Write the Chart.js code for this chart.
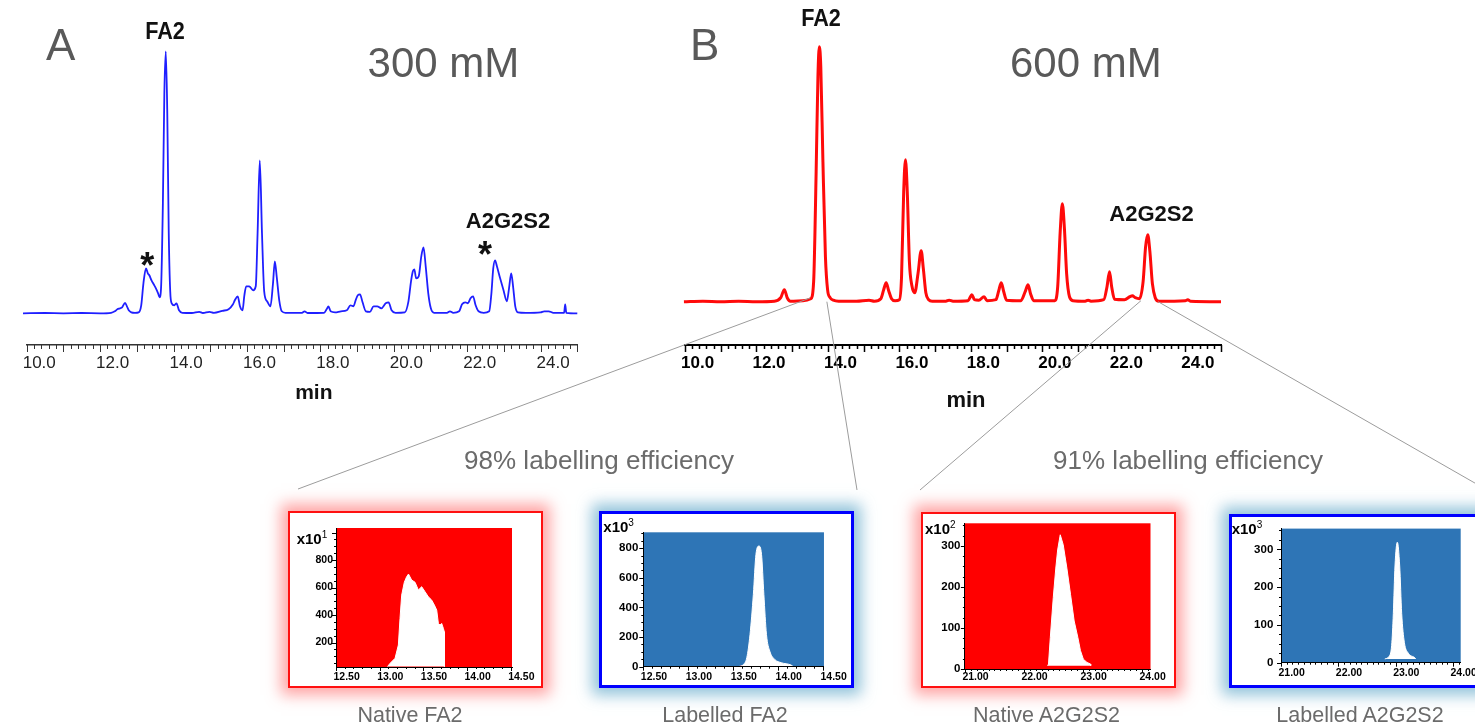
<!DOCTYPE html>
<html><head><meta charset="utf-8">
<script src="https://cdn.jsdelivr.net/npm/chart.js@4.4.1/dist/chart.umd.min.js"></script>
<style>
html,body{margin:0;padding:0;background:#fff;}
#page{position:relative;width:1475px;height:727px;overflow:hidden;background:#fff;font-family:"Liberation Sans",Arial,sans-serif;}
canvas{position:absolute;}
.t{position:absolute;white-space:nowrap;}
.box{position:absolute;box-sizing:border-box;background:#fff;}
</style></head><body><div id="page"></div>
<script>
// ---------------- DATA ----------------
// Panel A (300 mM) chromatogram: retention time (min) and signal (relative units)
const timeA = [9.90,10.5,11.0,11.5,12.0,12.30,12.40,12.47,12.54,12.60,12.68,12.73,12.78,12.85,12.95,13.05,13.12,13.18,13.25,13.30,13.34,13.40,13.46,13.52,13.58,13.62,13.66,13.71,13.75,13.79,13.83,13.87,13.91,13.95,14.02,14.08,14.15,14.24,14.5,14.70,14.80,14.98,15.10,15.33,15.50,15.62,15.67,15.75,15.81,15.88,15.93,15.98,16.06,16.17,16.24,16.29,16.35,16.41,16.47,16.55,16.64,16.71,16.76,16.81,16.88,16.95,17.05,17.5,17.57,17.65,18.10,18.17,18.22,18.28,18.40,18.56,18.72,18.82,18.90,18.97,19.02,19.08,19.15,19.24,19.35,19.45,19.55,19.66,19.78,19.86,19.94,20.05,20.30,20.40,20.47,20.52,20.56,20.61,20.68,20.75,20.81,20.87,20.94,21.01,21.10,21.45,21.53,21.62,21.78,21.86,21.95,22.02,22.09,22.16,22.23,22.31,22.45,22.60,22.66,22.71,22.76,22.81,22.89,22.99,23.08,23.14,23.20,23.25,23.31,23.38,23.60,24.00,24.10,24.22,24.35,24.64,24.67,24.70,25.00];
const signalA = [0,0.3,0,0.3,0,0.5,2,4,5,6,10.5,7,3,1,0.5,1,8,30,45,40,38,33,29,25,20,16,25,110,220,262,200,80,22,10,8,10,3,0.5,0.3,1.5,0.3,1.5,0.5,2.5,4,9,13,17,7,3,18,27,27,23,27,80,153,80,22,12,7,30,52,37,13,2,0.5,0.5,2,0.3,0.5,4,7,2,1,2,3,8,7,14,18,19,11,2,1.5,7,7,5,10,11,3,0.5,1,12,32,42,44,35,37,57,66,47,20,5,0.5,0.5,2,0.5,2,9,11,10,15,17,8,2,0.5,2,20,45,53,47,36,23,12,25,40,27,7,1,0.5,1,2,2,0.5,0.5,9,0.5,0];

// Panel B (600 mM) chromatogram
const timeB = [9.97,10.5,11.0,11.5,12.0,12.5,12.68,12.78,12.86,12.95,13.30,13.52,13.60,13.67,13.72,13.76,13.80,13.86,13.93,13.99,14.06,14.15,14.30,14.80,15.15,15.30,15.48,15.56,15.63,15.70,15.78,15.88,16.00,16.06,16.12,16.17,16.22,16.28,16.35,16.43,16.52,16.61,16.67,16.74,16.82,16.92,17.30,17.39,17.50,17.92,18.03,18.10,18.22,18.37,18.45,18.70,18.78,18.85,18.92,19.00,19.40,19.52,19.60,19.67,19.76,20.35,20.43,20.50,20.56,20.62,20.68,20.76,20.86,21.20,21.28,21.36,21.72,21.81,21.88,21.94,22.02,22.30,22.45,22.52,22.60,22.72,22.82,22.89,22.95,23.01,23.08,23.16,23.26,24.00,24.07,24.14,25.00];
const signalB = [0,0.5,0,0.5,0,0.5,4,12,4,0.5,1,3,20,130,225,255,235,140,45,12,4,1.5,0.5,0.5,1.5,0.5,3,12,19,11,3,1,2,25,110,142,110,40,16,9,28,51,33,9,2,0.5,0.5,1.5,0.5,1,7,2,1.5,5,1,2,11,19,10,1.5,1,10,17,8,1,1,15,70,98,72,28,5,1,0.5,1.5,0.5,2,15,30,15,2.5,2,5,6,4,3,20,55,67,50,18,4,0.5,1,2,0.5,0];
const mainTickLabels = [10,12,14,16,18,20,22,24];

// Inset: Native FA2 (x10^1)
const nativeFA2Time  = [13.09,13.118,13.176,13.214,13.233,13.252,13.282,13.309,13.33,13.366,13.405,13.443,13.481,13.519,13.557,13.595,13.626,13.653,13.672,13.691,13.71,13.729,13.74,13.741];
const nativeFA2Value = [25,48,85,182,376,545,638,679,698,655,638,582,606,570,533,509,473,436,339,327,339,303,279,25];
const nativeFA2XLabels = [12.5,13.0,13.5,14.0,14.5];
const nativeFA2YLabels = [200,400,600,800];

// Inset: Labelled FA2 (x10^3)
const labelledFA2Time  = [13.56,13.615,13.652,13.688,13.725,13.754,13.787,13.816,13.842,13.871,13.908,13.963,14.036,14.145,14.17];
const labelledFA2Value = [0,15,61,218,488,759,815,759,488,218,105,49,27,11,0];
const labelledFA2XLabels = [12.5,13.0,13.5,14.0,14.5];
const labelledFA2YLabels = [0,200,400,600,800];

// Inset: Native A2G2S2 (x10^2)
const nativeA2Time  = [22.40,22.416,22.447,22.497,22.54,22.571,22.615,22.665,22.727,22.789,22.851,22.913,22.957,23.006,23.068,23.13,23.131];
const nativeA2Value = [8,12,77,174,246,290,327,303,246,182,117,77,45,24,16,12,8];
const nativeA2XLabels = [21,22,23,24];
const nativeA2YLabels = [0,100,200,300];

// Inset: Labelled A2G2S2 (x10^3)
const labelledA2Time  = [22.81,22.884,22.93,22.959,22.988,23.029,23.07,23.105,23.151,23.221,23.337,23.349];
const labelledA2Value = [10,16.6,46,130,256,319,256,130,54,25,12.6,10];
const labelledA2XLabels = [21,22,23,24];
const labelledA2YLabels = [0,100,200,300];

// zoomed regions of panel B linked to the insets (min, signal)
const zoomLinks = [[13.50,3.7],[13.97,0],[22.76,1],[23.24,0]];

// ---------------- HELPERS ----------------
const page = document.getElementById('page');
Chart.defaults.font.family = '"Liberation Sans", Arial, sans-serif';
const SANS = '"Liberation Sans", Arial, sans-serif';
const SERIF = '"Liberation Serif", "Times New Roman", serif';

function pts(t, v){ return t.map((x,i)=>({x:x, y:v[i]})); }
function near(list, v, eps){ return list.some(a=>Math.abs(a-v)<eps); }

function mkCanvas(x,y,w,h,z){
  const c=document.createElement('canvas');
  c.width=w; c.height=h;
  c.style.left=x+'px'; c.style.top=y+'px';
  c.style.width=w+'px'; c.style.height=h+'px';
  c.style.zIndex = z||2;
  page.appendChild(c); return c;
}
function box(x,y,w,h,border,shadow){
  const d=document.createElement('div'); d.className='box';
  d.style.left=x+'px'; d.style.top=y+'px'; d.style.width=w+'px'; d.style.height=h+'px';
  d.style.border=border; d.style.boxShadow=shadow; d.style.zIndex=1;
  page.appendChild(d);
}
function txt(s,x,base,size,o){
  o=o||{};
  const d=document.createElement('div'); d.className='t';
  if(o.html) d.innerHTML=s; else d.textContent=s;
  d.style.fontSize=size+'px'; d.style.lineHeight=size+'px';
  d.style.fontFamily=o.serif?SERIF:SANS;
  d.style.fontWeight=o.weight||'normal';
  d.style.color=o.color||'#000';
  const k=o.serif?0.8375:0.8465;
  d.style.top=(base-k*size)+'px';
  d.style.left=x+'px';
  let tr='';
  if(o.align==='center') tr+='translateX(-50%) ';
  if(o.sx) tr+='scaleX('+o.sx+')';
  d.style.transform=tr;
  d.style.zIndex=5;
  page.appendChild(d);
}

const tickMarks = {
  id:'tickMarks',
  afterDraw(chart, args, o){
    if(!o || !o.axes) return;
    const ctx=chart.ctx;
    o.axes.forEach(a=>{
      const s=chart.scales[a.id];
      ctx.save(); ctx.strokeStyle=a.color; ctx.lineWidth=a.width; ctx.beginPath();
      const k0=Math.ceil(s.min/a.minor-1e-6), k1=Math.floor(s.max/a.minor+1e-6);
      for(let k=k0;k<=k1;k++){
        const v=k*a.minor; const r=v/a.major;
        const major=Math.abs(r-Math.round(r))<1e-6;
        const len=major?a.majorLen:a.minorLen;
        const p=s.getPixelForValue(v);
        if(s.isHorizontal()){
          const px=Math.round(p)+0.5;
          ctx.moveTo(px, s.top); ctx.lineTo(px, s.top+len);
        } else {
          const py=Math.round(p)+0.5;
          ctx.moveTo(s.right, py); ctx.lineTo(s.right-len, py);
        }
      }
      ctx.stroke(); ctx.restore();
    });
  }
};
const plotBg = {
  id:'plotBg',
  beforeDraw(chart, args, o){
    if(!o || !o.color) return;
    const {ctx, chartArea:a}=chart;
    ctx.save(); ctx.fillStyle=o.color;
    ctx.fillRect(a.left,a.top,a.right-a.left,a.bottom-a.top);
    ctx.restore();
  }
};

function mainChart(c, t, v, o){
  return new Chart(c, {
    type:'line',
    data:{datasets:[{data:pts(t,v), borderColor:o.color, borderWidth:o.lw, pointRadius:0, fill:false,
      cubicInterpolationMode:'monotone', clip:false}]},
    options:{
      responsive:false, animation:false, devicePixelRatio:1,
      layout:{padding:{left:o.padL,right:o.padR,top:o.padT,bottom:0}},
      plugins:{legend:{display:false}, tooltip:{enabled:false},
        tickMarks:{axes:[{id:'x',minor:0.2,major:1,minorLen:4,majorLen:7,color:o.axisColor,width:o.tickW}]}},
      scales:{
        x:{type:'linear', min:10, max:25,
          grid:{display:false, drawTicks:false},
          border:{display:true, color:o.axisColor, width:o.axisW, z:1},
          ticks:{stepSize:0.2, autoSkip:false, maxRotation:0, minRotation:0, align:'start', labelOffset:-4,
            padding:8, color:o.labelColor, font:{size:17, weight:o.labelWeight, family:SANS},
            callback:(val)=>{ const r=Math.round(val*10)/10; return near(mainTickLabels,r,1e-6)? r.toFixed(1):''; }},
          afterFit:(s)=>{ s.height=o.xH; }
        },
        y:{display:false, min:o.yMin, max:o.yMax}
      }
    },
    plugins:[tickMarks]
  });
}

function insetChart(c, o){
  const ds=[{data:pts(o.t,o.v), borderColor:'#ffffff', borderWidth:1, backgroundColor:'#ffffff',
      fill:{value:o.base}, pointRadius:0, tension:0, cubicInterpolationMode:o.mono?'monotone':'default'}];
  if(o.extra) o.extra.forEach(e=>ds.push(e));
  return new Chart(c, {
    type:'line',
    data:{datasets:ds},
    options:{
      responsive:false, animation:false, devicePixelRatio:1,
      layout:{padding:{left:0,right:o.padR,top:o.padT,bottom:0}},
      plugins:{legend:{display:false}, tooltip:{enabled:false}, plotBg:{color:o.bg},
        tickMarks:{axes:[
          {id:'x',minor:0.1,major:o.xMajor,minorLen:2,majorLen:4,color:'#000',width:1},
          {id:'y',minor:o.yMinor,major:o.yMajor,minorLen:2,majorLen:4,color:'#000',width:1}]}},
      scales:{
        x:{type:'linear', min:o.xMin, max:o.xMax,
          grid:{display:false, drawTicks:false},
          border:{display:true, color:'#000', width:1, z:1},
          ticks:{stepSize:0.1, autoSkip:false, maxRotation:0, minRotation:0, includeBounds:false, align:'start', labelOffset:-2.5,
            padding:o.xPad, color:'#000', font:{size:10.5, weight:'bold', family:SANS},
            callback:(val)=>{ const r=Math.round(val*100)/100; return near(o.xLabels,r,1e-6)? r.toFixed(2):''; }},
          afterFit:(s)=>{ s.height=o.xH; }
        },
        y:{min:o.yMin, max:o.yMax,
          grid:{display:false, drawTicks:false},
          border:{display:true, color:'#000', width:1, z:1},
          ticks:{stepSize:o.yMinor, autoSkip:false, includeBounds:false, padding:o.yPad, color:'#000',
            font:{size:o.yFont, weight:'bold', family:SANS},
            callback:(val)=>{ const r=Math.round(val); return near(o.yLabels,r,1e-6)? String(r):''; }},
          afterFit:(s)=>{ s.width=o.yW; }
        }
      }
    },
    plugins:[plotBg, tickMarks]
  });
}

// ---------------- MAIN CHROMATOGRAMS ----------------
const chartA = mainChart(mkCanvas(0,0,600,410), timeA, signalA, {
  color:'#1f1fff', lw:1.8, padL:26.7, padR:22.7, padT:40, xH:65, yMin:-31.7, yMax:273.3,
  axisColor:'#333', axisW:1.5, tickW:1, labelColor:'#222', labelWeight:'normal'});
const chartB = mainChart(mkCanvas(660,0,580,410), timeB, signalB, {
  color:'#ff0a0a', lw:3, padL:25, padR:19, padT:40, xH:65, yMin:-43.3, yMax:261.7,
  axisColor:'#000', axisW:2, tickW:1.5, labelColor:'#000', labelWeight:'bold'});

// ---------------- INSETS ----------------
const redGlow='0 0 14px 7px rgba(255,90,90,0.55)';
const blueGlow='0 0 14px 7px rgba(110,175,205,0.75)';
box(288,511,255,177,'2px solid #ff1010',redGlow);
box(599,511,255,177,'3px solid #0000ff',blueGlow);
box(921,512,255,176,'2px solid #ff1010',redGlow);
box(1229,514,280,174,'3px solid #0000ff',blueGlow);

insetChart(mkCanvas(288,511,255,177,3), {t:nativeFA2Time, v:nativeFA2Value, base:25, mono:false, bg:'#ff0000',
  padR:31, padT:17, xH:21, yW:48, xMin:12.5, xMax:14.515, yMin:22, yMax:1033,
  xMajor:0.5, yMinor:50, yMajor:200, xLabels:nativeFA2XLabels, yLabels:nativeFA2YLabels, xPad:3.5, yPad:3, yFont:10.5});
insetChart(mkCanvas(599,511,255,177,3), {t:labelledFA2Time, v:labelledFA2Value, base:0, mono:true, bg:'#2e75b6',
  padR:27.3, padT:21.3, xH:21.3, yW:44.3, xMin:12.5, xMax:14.511, yMin:0, yMax:908,
  xMajor:0.5, yMinor:50, yMajor:200, xLabels:labelledFA2XLabels, yLabels:labelledFA2YLabels, xPad:4.6, yPad:5, yFont:11.5,
  extra:[{data:pts([13.58,14.02],[3,3]), borderColor:'#ff0000', borderWidth:1.5, pointRadius:0, fill:false}]});
insetChart(mkCanvas(921,512,255,176,3), {t:nativeA2Time, v:nativeA2Value, base:8, mono:false, bg:'#ff0000',
  padR:25.5, padT:10.3, xH:19, yW:43.9, xMin:21, xMax:24.144, yMin:0, yMax:355,
  xMajor:1, yMinor:25, yMajor:100, xLabels:nativeA2XLabels, yLabels:nativeA2YLabels, xPad:1.5, yPad:4.4, yFont:11.5});
insetChart(mkCanvas(1229,514,246,174,3), {t:labelledA2Time, v:labelledA2Value, base:10, mono:true, bg:'#2e75b6',
  padR:14.3, padT:7.7, xH:25.3, yW:52, xMin:21, xMax:24.134, yMin:0, yMax:355,
  xMajor:1, yMinor:25, yMajor:100, xLabels:labelledA2XLabels, yLabels:labelledA2YLabels, xPad:4.1, yPad:7.7, yFont:11.5});

// ---------------- CONNECTOR LINES ----------------
(function(){
  const ov=mkCanvas(0,0,1475,727,4);
  const ctx=ov.getContext('2d');
  const ends=[[298,489],[857,490],[920,490],[1487,490]];
  const cb=chartB.canvas.getBoundingClientRect(), pb=page.getBoundingClientRect();
  const ox=cb.left-pb.left, oy=cb.top-pb.top;
  ctx.strokeStyle='#9c9c9c'; ctx.lineWidth=1;
  zoomLinks.forEach((z,i)=>{
    const x=ox+chartB.scales.x.getPixelForValue(z[0]);
    const y=oy+chartB.scales.y.getPixelForValue(z[1]);
    ctx.beginPath(); ctx.moveTo(x,y); ctx.lineTo(ends[i][0],ends[i][1]); ctx.stroke();
  });
})();

// ---------------- TEXT ----------------
const GRAY='#595959';
txt('A',46,60,44,{color:GRAY});
txt('B',690,60,44,{color:GRAY});
txt('300 mM',367.6,77.3,42,{color:GRAY});
txt('600 mM',1010,77.3,42,{color:GRAY});
txt('FA2',165,39.3,24,{weight:'bold',align:'center',sx:0.9,color:'#111'});
txt('FA2',821,26.7,24,{weight:'bold',align:'center',sx:0.9,color:'#111'});
txt('A2G2S2',508,228.3,22,{weight:'bold',align:'center',color:'#111'});
txt('A2G2S2',1151.5,221.7,22,{weight:'bold',align:'center',color:'#111'});
txt('*',147.3,278.5,36,{weight:'bold',align:'center',color:'#111'});
txt('*',485,267,36,{weight:'bold',align:'center',color:'#111'});
txt('min',313.8,398.3,21,{weight:'bold',align:'center',color:'#111'});
txt('min',966,408,22,{weight:'bold',align:'center',color:'#111'});
txt('98% labelling efficiency',599,469,26,{align:'center',color:'#6b6b6b'});
txt('91% labelling efficiency',1188,469,26,{align:'center',color:'#6b6b6b'});
txt('Native FA2',410,723.3,21.5,{align:'center',color:'#6b6b6b'});
txt('Labelled FA2',725,723.3,21.5,{align:'center',color:'#6b6b6b'});
txt('Native A2G2S2',1046.5,723,21.5,{align:'center',color:'#6b6b6b'});
txt('Labelled A2G2S2',1360,723,21.5,{align:'center',color:'#6b6b6b'});
const SUP=(n)=>'x10<span style="font-size:10px;font-weight:normal;position:relative;top:-6px;">'+n+'</span>';
txt(SUP(1),296.7,543.3,15,{html:true,weight:'bold'});
txt(SUP(3),603.3,531.7,15,{html:true,weight:'bold'});
txt(SUP(2),925,534,15,{html:true,weight:'bold'});
txt(SUP(3),1231.7,533.3,15,{html:true,weight:'bold'});
</script></body></html>
